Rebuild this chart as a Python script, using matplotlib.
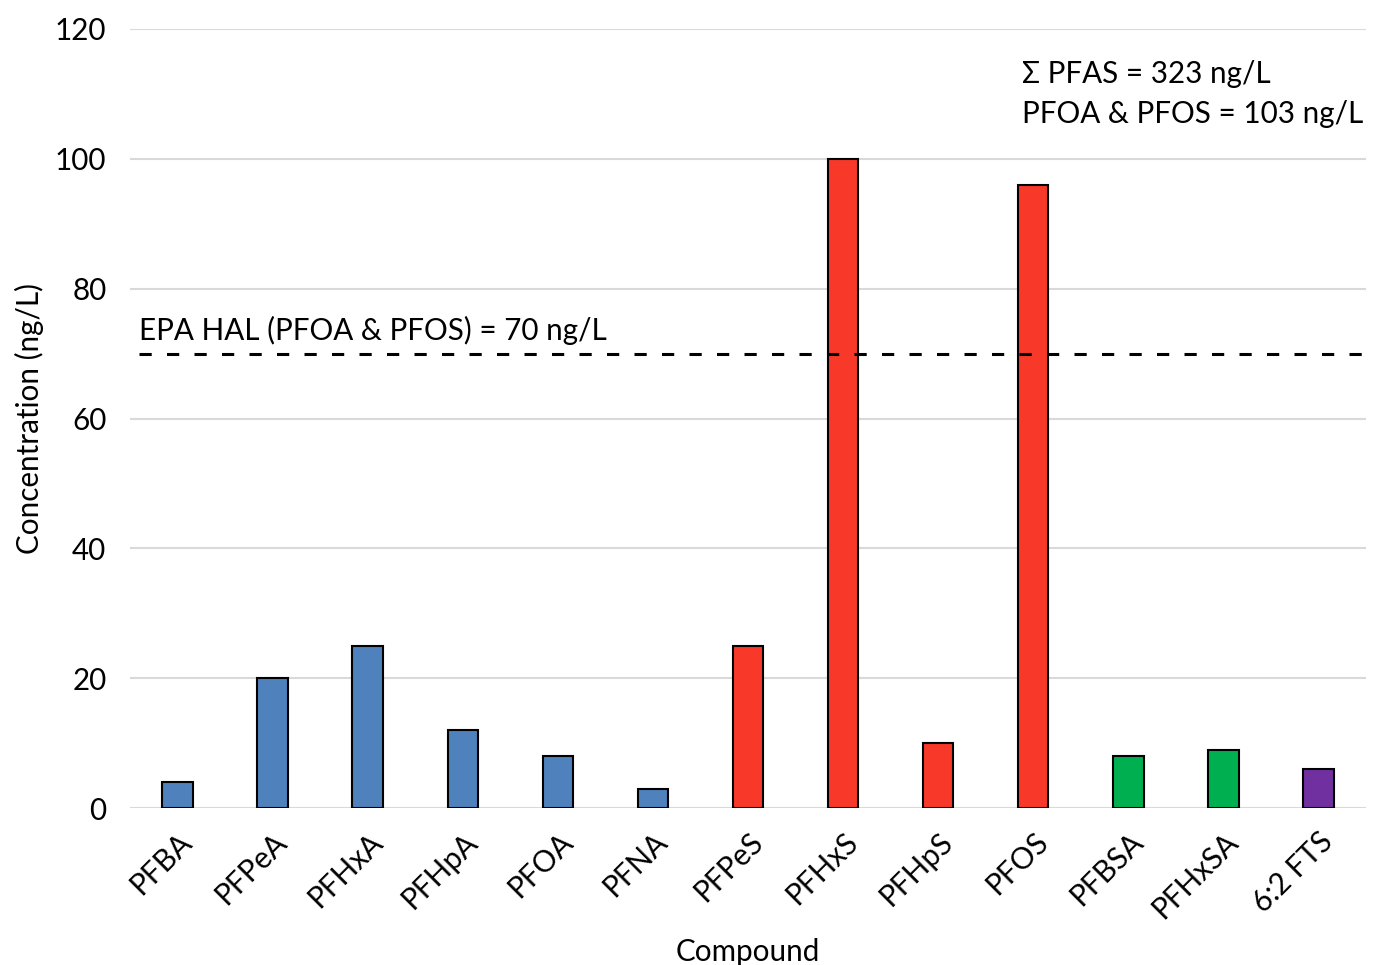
import matplotlib
matplotlib.use("Agg")
import matplotlib.pyplot as plt

# concentrations per compound (ng/L)
compounds = ["PFBA", "PFPeA", "PFHxA", "PFHpA", "PFOA", "PFNA", "PFPeS",
             "PFHxS", "PFHpS", "PFOS", "PFBSA", "PFHxSA", "6:2 FTS"]
conc = [4, 20, 25, 12, 8, 3, 25, 100, 10, 96, 8, 9, 6]
groups = ["PFCA"] * 6 + ["PFSA"] * 4 + ["FASA"] * 2 + ["FTS"]

group_colors = {"PFCA": "#4F81BD", "PFSA": "#F8392A", "FASA": "#00B050", "FTS": "#7030A0"}
hal_value = 70
yticks = [0, 20, 40, 60, 80, 100, 120]

plt.rcParams['font.family'] = ['Lato', 'DejaVu Sans']
FS = 21.3

fig = plt.figure(figsize=(13.76, 9.65), dpi=100)
ax = fig.add_axes([130 / 1376, 1 - 808 / 965, 1236 / 1376, 779 / 965])

x = list(range(len(compounds)))
colors = [group_colors[g] for g in groups]
ax.bar(x, conc, width=0.32, color=colors, edgecolor="black", linewidth=1.5, zorder=3)

# health advisory level
ax.axhline(hal_value, xmin=0.007, xmax=1.008, color="black", linestyle=(0, (4, 5)),
           linewidth=2.2, clip_on=False, zorder=4)
ax.text(0.007, hal_value + 1.3, "EPA HAL (PFOA & PFOS) = 70 ng/L", transform=ax.get_yaxis_transform(),
        fontsize=FS, va="bottom", ha="left")

ax.text(0.722, 115.3, "\u03a3 PFAS = 323 ng/L\nPFOA & PFOS = 103 ng/L", transform=ax.get_yaxis_transform(),
        fontsize=FS, va="top", ha="left", linespacing=1.55)

ax.set_xlim(-0.5, len(compounds) - 0.5)
ax.set_ylim(0, 120)
ax.set_yticks(yticks)
ax.set_xticks(x)
ax.set_xticklabels(compounds, rotation=45, ha="right", rotation_mode="anchor")
ax.tick_params(axis="both", length=0, labelsize=FS)
ax.tick_params(axis="y", pad=17)
ax.tick_params(axis="x", pad=14)
ax.yaxis.grid(True, color="#D9D9D9", linewidth=1.5, zorder=0)
for s in ax.spines.values():
    s.set_visible(False)

ax.set_xlabel("Compound", fontsize=FS, labelpad=10)
ax.set_ylabel("Concentration (ng/L)", fontsize=FS, labelpad=8)

fig.savefig("out.png", dpi=100)
